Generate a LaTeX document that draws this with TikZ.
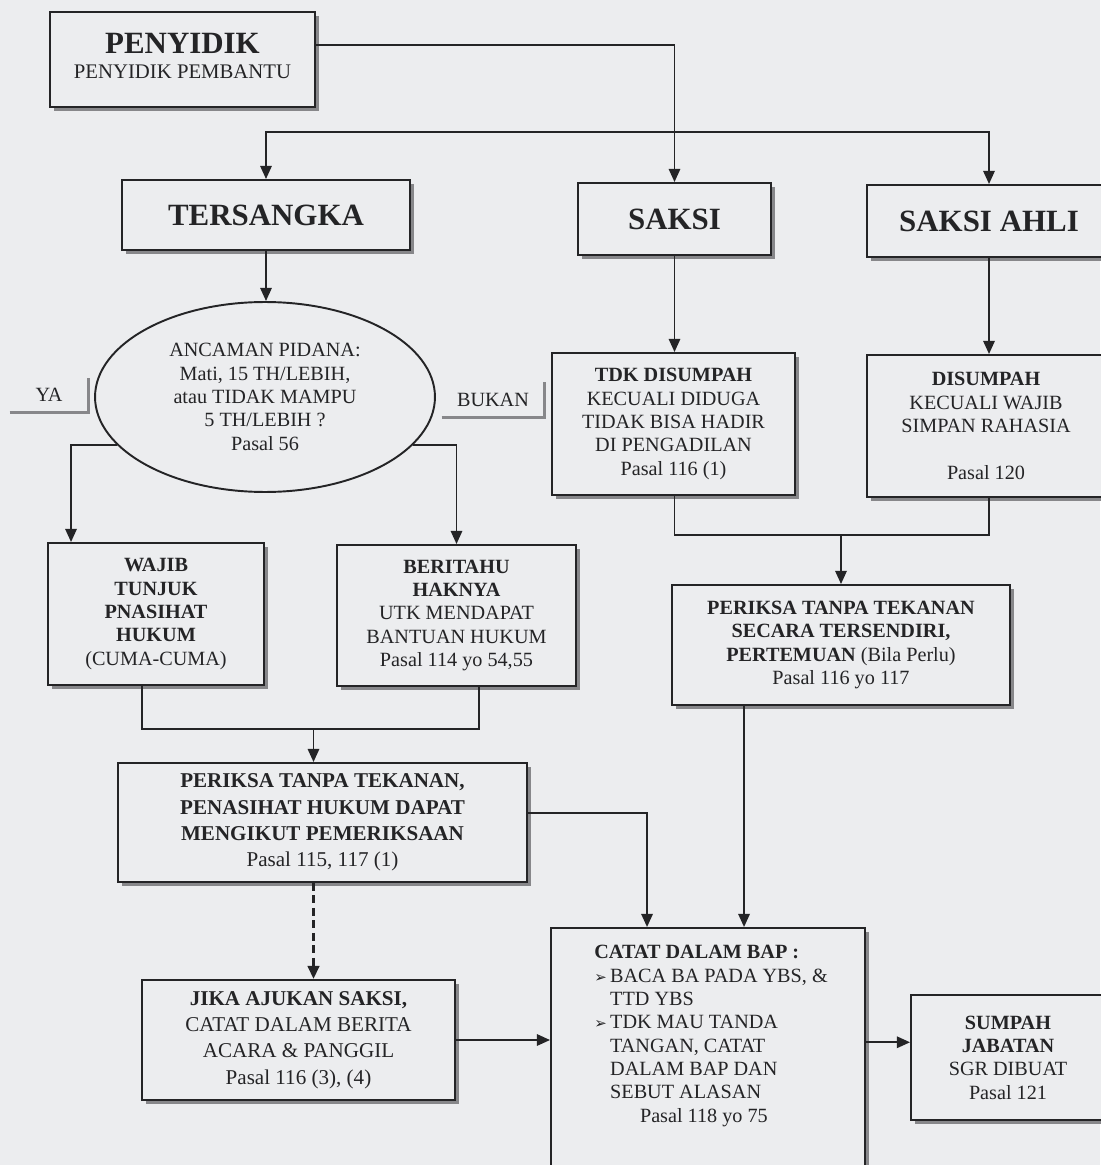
\documentclass[tikz,border=0pt]{standalone}
\usepackage{fontspec}
\setmainfont{Liberation Serif}
\newfontfamily\dingfont{DejaVu Sans}
\usetikzlibrary{arrows.meta,shapes.geometric,shadows,calc}

\definecolor{paper}{RGB}{236,237,239}
\definecolor{ink}{RGB}{36,36,38}
\definecolor{shade}{RGB}{135,135,138}

\newcommand\bodysize{\fontsize{11.5}{13.3}\selectfont}
\newcommand\bigbody{\fontsize{12}{15}\selectfont}
\newcommand\titlesize{\fontsize{17.6}{20}\selectfont}
\newcommand\bul{\makebox[9pt][l]{\dingfont\fontsize{8.5}{9}\selectfont ➢}}

% a framed box given by its corners (in drawing units) and its name
\newcommand\boxnode[6][]{\node[box,#1,
  minimum width={(#4-#2)*0.02cm}, minimum height={(#5-#3)*0.02cm}]
  (#6) at ({(#2+#4)/2},{(#3+#5)/2})}

\tikzset{
  box/.style={draw=ink, line width=1.1pt, fill=paper, inner sep=0pt, align=center,
    text=ink, font=\bodysize,
    drop shadow={shadow xshift=2pt, shadow yshift=-2pt, fill=shade, opacity=1}},
  ell/.style={ellipse, draw=ink, line width=1.1pt, fill=paper, inner sep=0pt,
    align=center, text=ink, font=\bodysize},
  lbl/.style={inner sep=0pt, text=ink, font=\bodysize},
  shadowline/.style={draw=shade, line width=2pt},
  link/.style={draw=ink, line width=1.1pt},
  arr/.style={link, -{Triangle[length=7.5pt,width=6.5pt]}},
  dashlink/.style={arr, line width=1.7pt, dash pattern=on 4.5pt off 2.6pt},
}

\begin{document}
\begin{tikzpicture}[x=0.02cm,y=-0.02cm]
\useasboundingbox (0,0) rectangle (1100,1165);
\fill[paper] (0,0) rectangle (1100,1165);

% ---- boxes
\boxnode{50}{12}{315}{107}{penyidik}
  {{\titlesize\bfseries PENYIDIK}\\[1pt]
   {\fontsize{11.8}{13}\selectfont PENYIDIK PEMBANTU}\rule[-4.5pt]{0pt}{0pt}};
\boxnode{122}{180}{410}{250}{tersangka} {\titlesize\bfseries TERSANGKA};
\boxnode{578}{183}{771}{255}{saksi} {\titlesize\bfseries SAKSI};
\boxnode{867}{185}{1111}{257}{saksiahli} {\titlesize\bfseries SAKSI AHLI};

\node[ell, minimum width=6.8cm, minimum height=3.8cm] (ancaman) at (265,397)
  {ANCAMAN PIDANA:\\ Mati, 15 TH/LEBIH,\\ atau TIDAK MAMPU\\ 5 TH/LEBIH ?\\ Pasal 56};

\node[lbl, minimum width=1.56cm, minimum height=0.68cm] (ya) at (49,395) {YA};
\node[lbl, minimum width=2.04cm, minimum height=0.70cm] (bukan) at (493,399.5) {BUKAN};

\boxnode{552}{353}{795}{495}{tdk}
  {\textbf{TDK DISUMPAH}\\ KECUALI DIDUGA\\ TIDAK BISA HADIR\\ DI PENGADILAN\\ Pasal 116 (1)};
\boxnode{867}{355}{1105}{497}{disumpah}
  {\textbf{DISUMPAH}\\ KECUALI WAJIB\\ SIMPAN RAHASIA\\ \strut\\ Pasal 120};

\boxnode{48}{543}{264}{685}{wajib}
  {\textbf{WAJIB}\\ \textbf{TUNJUK}\\ \textbf{PNASIHAT}\\ \textbf{HUKUM}\\ (CUMA-CUMA)};
\boxnode{337}{545}{576}{686}{beritahu}
  {\textbf{BERITAHU}\\ \textbf{HAKNYA}\\ UTK MENDAPAT\\ BANTUAN HUKUM\\ Pasal 114 yo 54,55};

\boxnode{672}{585}{1010}{705}{periksa2}
  {\textbf{PERIKSA TANPA TEKANAN}\\ \textbf{SECARA TERSENDIRI,}\\
   \textbf{PERTEMUAN} (Bila Perlu)\\ Pasal 116 yo 117};

\boxnode[font=\bigbody]{118}{763}{527}{882}{periksa1}
  {\textbf{PERIKSA TANPA TEKANAN,}\\ \textbf{PENASIHAT HUKUM DAPAT}\\
   \textbf{MENGIKUT PEMERIKSAAN}\\ Pasal 115, 117 (1)};

\boxnode[font=\bigbody]{142}{980}{455}{1100}{jika}
  {\textbf{JIKA AJUKAN SAKSI,}\\ CATAT DALAM BERITA\\ ACARA \& PANGGIL\\ Pasal 116 (3), (4)};

\boxnode{551}{928}{865}{1180}{catat} {};
\node[lbl, anchor=north west, align=left] (catattext) at (594,945)
  {\textbf{CATAT DALAM BAP :}\\
   \bul BACA BA PADA YBS, \&\\
   \hspace*{9pt}TTD YBS\\
   \bul TDK MAU TANDA\\
   \hspace*{9pt}TANGAN, CATAT\\
   \hspace*{9pt}DALAM BAP DAN\\
   \hspace*{9pt}SEBUT ALASAN\\
   \hspace*{26pt}Pasal 118 yo 75};

\boxnode{911}{995}{1105}{1120}{sumpah}
  {\textbf{SUMPAH}\\ \textbf{JABATAN}\\ SGR DIBUAT\\ Pasal 121};

% ---- label underlines (shadow only)
\draw[shadowline] (ya.south west) -| (ya.north east);
\draw[shadowline] (bukan.south west) -| (bukan.north east);

% ---- connectors
\draw[arr] ($(penyidik.north east)!0.35!(penyidik.south east)$) -| (saksi.north);
\coordinate (hub) at ($(saksi.north)+(0,-50)$);
\draw[arr] (hub) -| (tersangka.north);
\draw[arr] (hub) -| (saksiahli.north);

\draw[arr] (tersangka.south) -- (tersangka.south |- ancaman.north);
\coordinate (wajibin) at ($(wajib.north west)+(24,0)$);
\draw[arr] (ancaman.198) -| (wajibin);
\draw[arr] (ancaman.342) -| (beritahu.north);

\draw[arr] (saksi.south) -- (saksi.south |- tdk.north);
\draw[arr] (saksiahli.south) -- (saksiahli.south |- disumpah.north);

\coordinate (m1) at ($(periksa2.north)+(0,-49)$);
\draw[link] (saksi.south |- tdk.south) |- (m1) -| (saksiahli.south |- disumpah.south);
\draw[arr] (m1) -- (periksa2.north);

\coordinate (m2) at ($(periksa1.north)+(-9,-33)$);
\coordinate (wajibout) at ($(wajib.south west)+(95,0)$);
\coordinate (berout) at ($(beritahu.south west)+(143,0)$);
\draw[link] (wajibout) |- (m2) -| (berout);
\draw[arr] (m2) -- (m2 |- periksa1.north);

\coordinate (c1) at ($(catat.north west)+(97,0)$);
\coordinate (c2) at ($(catat.north west)+(194,0)$);
\draw[arr] ($(periksa1.north east)!0.42!(periksa1.south east)$) -| (c1);
\draw[arr] (c2 |- periksa2.south) -- (c2);

\coordinate (d1) at (m2 |- periksa1.south);
\draw[dashlink] (d1) -- (d1 |- jika.north);

\draw[arr] (jika.east) -- (jika.east -| catat.west);
\coordinate (s1) at ($(sumpah.north west)!0.38!(sumpah.south west)$);
\draw[arr] (s1 -| catat.east) -- (s1);
\end{tikzpicture}
\end{document}
